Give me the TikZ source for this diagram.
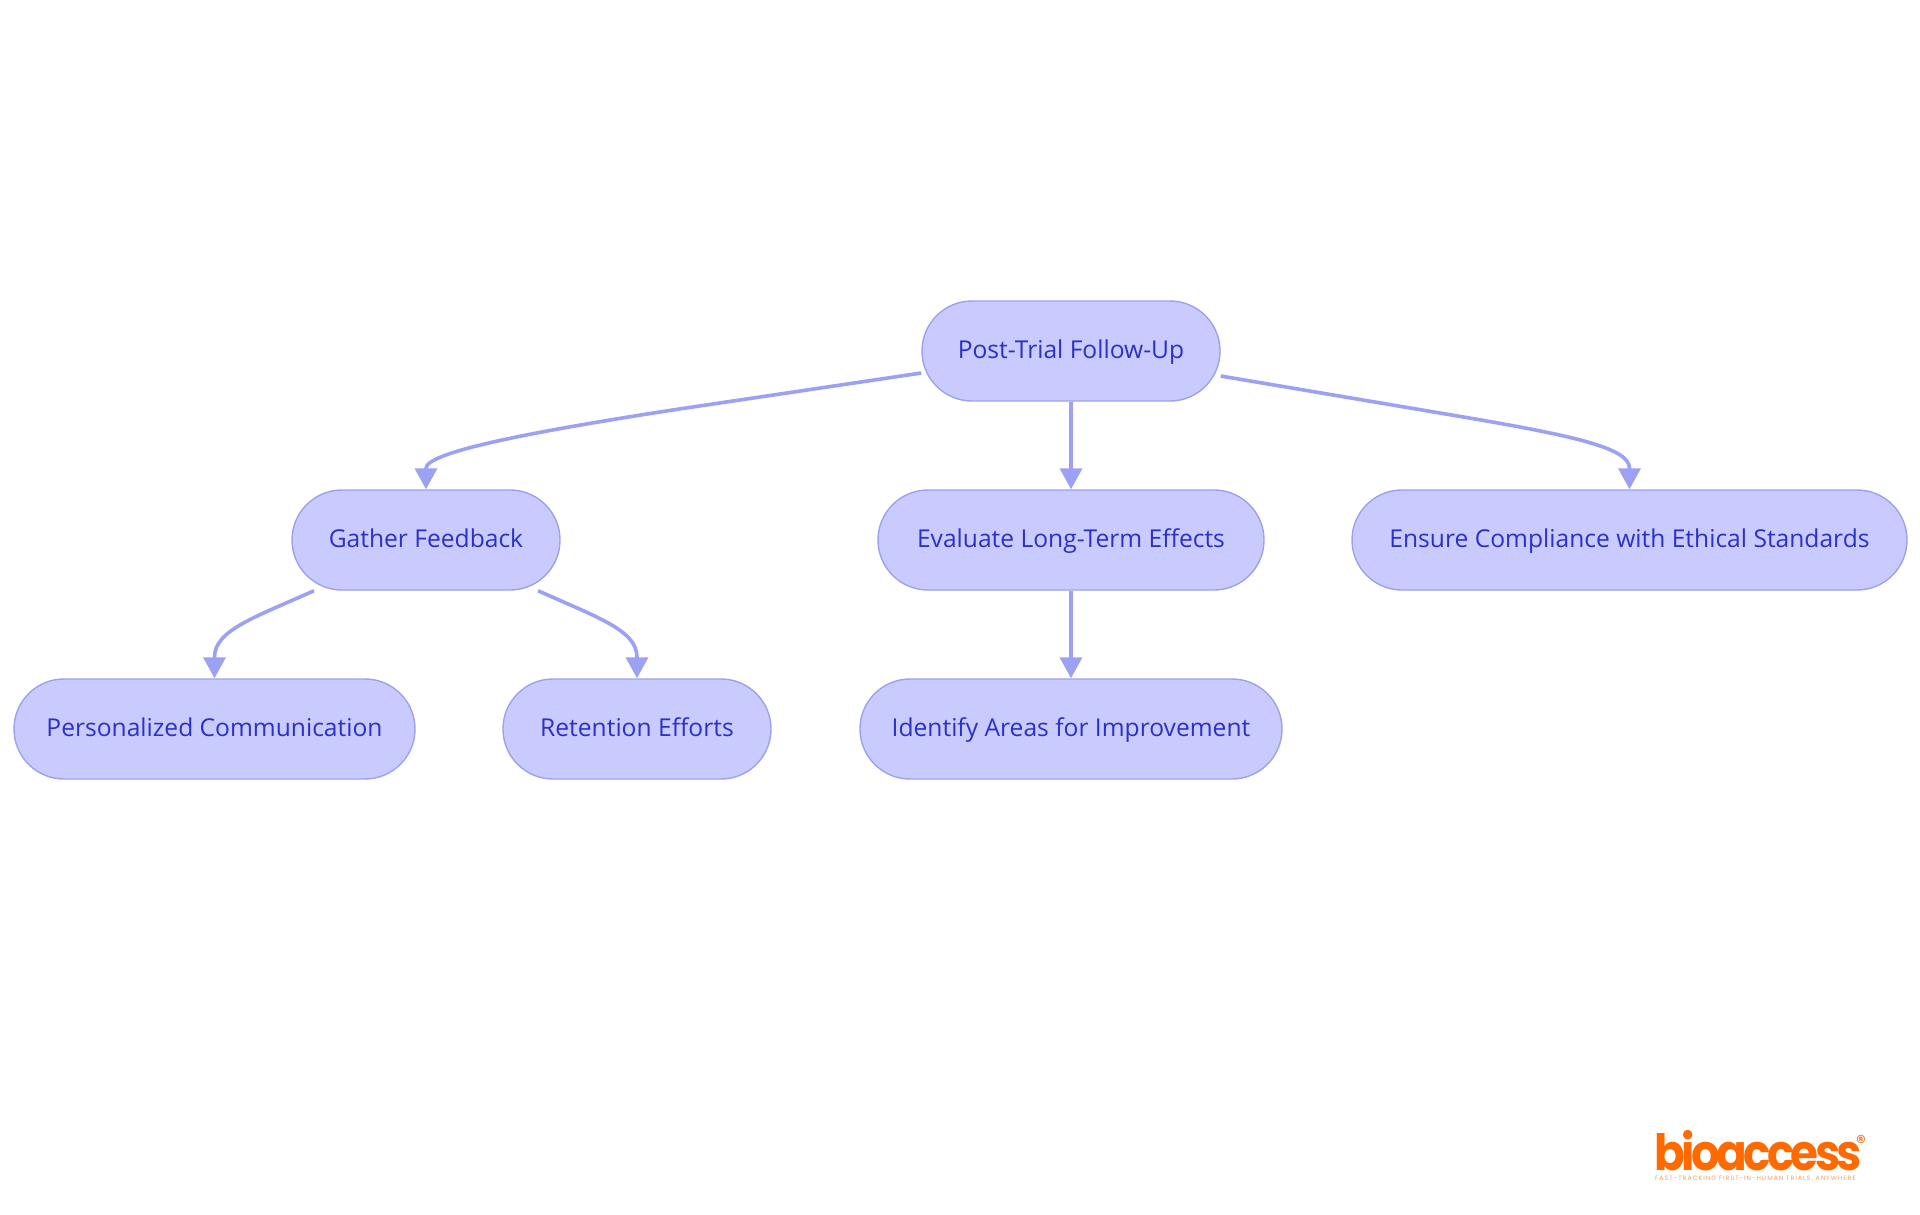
\documentclass[tikz,border=0pt]{standalone}
\usepackage{fontspec}
\setmainfont{Open Sans}
\newfontfamily\logofont{Poppins}[BoldFont={Poppins Bold},BoldFeatures={LetterSpace=-8}]
\newfontfamily\regfont{Poppins}
\newfontfamily\tagfont{Poppins}[LetterSpace=16]
\usetikzlibrary{arrows.meta}
\definecolor{nodefill}{HTML}{C9CBFF}
\definecolor{nodeline}{HTML}{9DA1EE}
\definecolor{edgeline}{HTML}{9DA1F3}
\definecolor{nodetext}{HTML}{2B30C8}
\definecolor{logoorange}{HTML}{FF6A00}
\tikzset{
  pill/.style={draw=nodeline,fill=nodefill,line width=1.4pt,rounded corners=50pt,minimum height=100pt,inner sep=0pt,
    text=nodetext,font=\fontsize{24.6}{30}\selectfont,text height=19pt,text depth=5pt,align=center},
  edge/.style={draw=edgeline,line width=3.6pt},
  tip/.style={-{Triangle[length=21pt,width=22pt]}}
}
\begin{document}
\begin{tikzpicture}[x=1pt,y=-1pt]
\useasboundingbox (0,0) rectangle (1920,1215);
\fill[white] (0,0) rectangle (1920,1215);
\node[pill,minimum width=298pt] (post) at (1071,351) {Post-Trial Follow-Up};
\node[pill,minimum width=268pt] (gather) at (426,540) {Gather Feedback};
\node[pill,minimum width=386pt] (eval) at (1071,540) {Evaluate Long-Term Effects};
\node[pill,minimum width=555pt] (ensure) at (1629.5,540) {Ensure Compliance with Ethical Standards};
\node[pill,minimum width=401pt] (pers) at (214.5,729) {Personalized Communication};
\node[pill,minimum width=268pt] (ret) at (637,729) {Retention Efforts};
\node[pill,minimum width=422pt] (ident) at (1071,729) {Identify Areas for Improvement};

\draw[edge,tip] ([yshift=-22pt]post.west) -- ++(-242,36) .. controls +(-150,23) and ([yshift=37pt]gather.north) .. ([yshift=21pt]gather.north) -- (gather.north);
\draw[edge,tip] (post.south) -- (eval.north);
\draw[edge,tip] ([yshift=-25pt]post.east) -- ++(225,38) .. controls +(125,21) and ([yshift=42pt]ensure.north) .. ([yshift=21pt]ensure.north) -- (ensure.north);
\draw[edge,tip] ([xshift=-112pt]gather.south) .. controls +(-60,27) and ([yshift=48pt]pers.north) .. ([yshift=21pt]pers.north) -- (pers.north);
\draw[edge,tip] ([xshift=112pt]gather.south) .. controls +(60,27) and ([yshift=48pt]ret.north) .. ([yshift=21pt]ret.north) -- (ret.north);
\draw[edge,tip] (eval.south) -- (ident.north);

\node[inner sep=0pt,anchor=base west,text=logoorange,font=\logofont\bfseries\fontsize{50}{52}\selectfont] (logo) at (1654,1170) {\scalebox{0.905}[1]{bioaccess}};
\node[inner sep=0pt,anchor=center,text=logoorange,font=\regfont\fontsize{20}{20}\selectfont] (reg) at (1861,1142) {®};
\node[inner sep=0pt,anchor=base west,text=logoorange!65,font=\tagfont\fontsize{6.3}{7}\selectfont] (tag) at (1655,1180) {FAST-TRACKING FIRST-IN-HUMAN TRIALS, ANYWHERE};
\end{tikzpicture}
\end{document}
